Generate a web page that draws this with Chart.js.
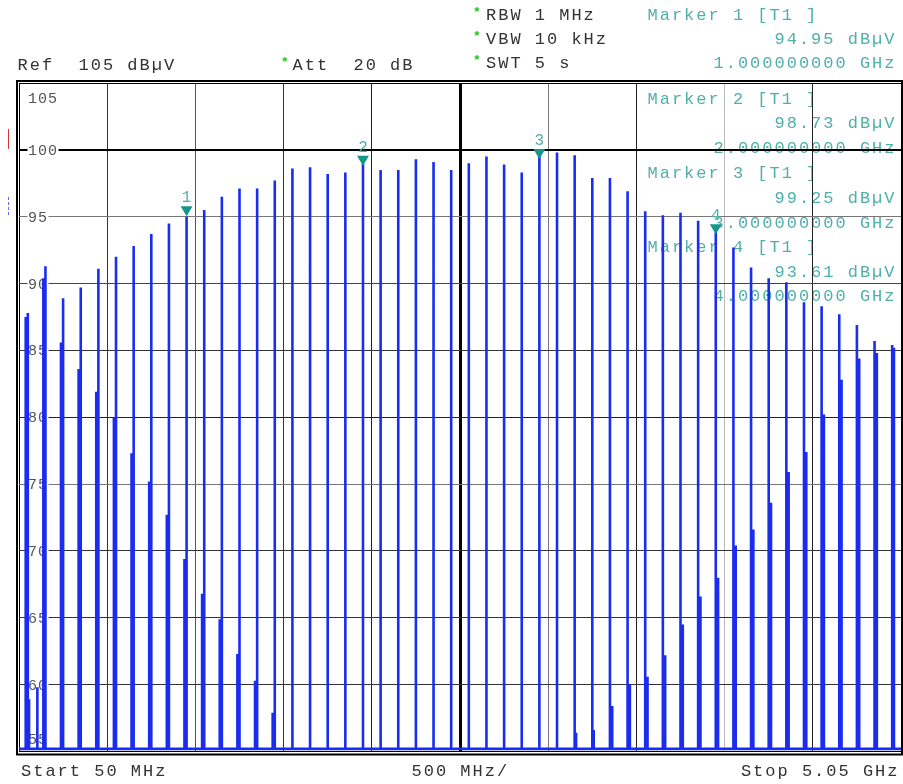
<!DOCTYPE html>
<html>
<head>
<meta charset="utf-8">
<script src="https://cdn.jsdelivr.net/npm/chart.js@4.4.1/dist/chart.umd.min.js"></script>
<style>
html, body { margin: 0; padding: 0; background: #fff; }
#wrap { width: 903px; height: 784px; position: relative; }
</style>
</head>
<body>
<div id="wrap"><canvas id="spectrum"></canvas></div>
<script>
// -----------------------------
// Data (MHz / dBµV)
// -----------------------------
const startMHz = 50;
const stopMHz = 5050;
const floorLevel = 55.2;

const combFreqs = [100, 200, 300, 400, 500, 600, 700, 800, 900, 1000,
    1100, 1200, 1300, 1400, 1500, 1600, 1700, 1800, 1900, 2000,
    2100, 2200, 2300, 2400, 2500, 2600, 2700, 2800, 2900, 3000,
    3100, 3200, 3300, 3400, 3500, 3600, 3700, 3800, 3900, 4000,
    4100, 4200, 4300, 4400, 4500, 4600, 4700, 4800, 4900, 5000];
const combLevels = [87.8, 91.3, 88.9, 89.7, 91.1, 92.0, 92.8, 93.7, 94.5, 95.0,
    95.5, 96.5, 97.1, 97.1, 97.7, 98.6, 98.7, 98.2, 98.3, 99.0,
    98.5, 98.5, 99.3, 99.1, 98.5, 99.0, 99.5, 98.9, 98.3, 99.7,
    99.8, 99.6, 97.9, 97.9, 96.9, 95.4, 95.1, 95.3, 94.7, 94.1,
    92.7, 91.2, 90.4, 90.1, 88.6, 88.3, 87.7, 86.9, 85.7, 85.4];

// side lines next to the comb
const sideFreqs = [88, 107, 154, 188, 288, 388, 488, 588, 688, 788, 888, 988,
    1088, 1188, 1288, 1388, 1488,
    3208, 3308, 3413, 3513, 3613, 3713, 3813, 3913, 4013, 4113, 4213,
    4313, 4413, 4513, 4613, 4713, 4813, 4913, 5010];
const sideLevels = [87.5, 58.9, 59.8, 90.4, 85.6, 83.6, 81.9, 80.0, 77.3, 75.2, 72.7, 69.4,
    66.8, 64.9, 62.3, 60.3, 57.9,
    56.4, 56.6, 58.4, 60.0, 60.6, 62.2, 64.5, 66.6, 68.0, 70.4, 71.6,
    73.6, 75.9, 77.4, 80.2, 82.8, 84.4, 84.8, 85.2];

const markerFreqs = [1000, 2000, 3000, 4000];
const markerLevels = [94.95, 98.73, 99.25, 93.61];

const xGrid = [50, 550, 1050, 1550, 2050, 2550, 3050, 3550, 4050, 4550, 5050];
const yGrid = [55, 60, 65, 70, 75, 80, 85, 90, 95, 100, 105];
const yTickLabels = ['55', '60', '65', '70', '75', '80', '85', '90', '95', '100', '105'];

// -----------------------------
// Styles
// -----------------------------
const FONT = '"Liberation Mono", "DejaVu Sans Mono", monospace';
const TEAL = '#4fb0aa';
const xGridColors = ['#000', '#333', '#555', '#333', '#222', '#000', '#777', '#222', '#bbb', '#222', '#000'];
const yGridColors = ['#000', '#333', '#333', '#333', '#777', '#222', '#333', '#444', '#777', '#000', '#000'];

// trace: floor -> peak -> floor for every line
const lines = combFreqs.map((f, i) => ({ f: f, v: combLevels[i] }))
    .concat(sideFreqs.map((f, i) => ({ f: f, v: sideLevels[i] })))
    .sort((a, b) => a.f - b.f);
const trace = [{ x: startMHz, y: floorLevel }];
lines.forEach(l => {
    trace.push({ x: l.f, y: floorLevel }, { x: l.f, y: l.v }, { x: l.f, y: floorLevel });
});
trace.push({ x: stopMHz, y: floorLevel });

function monoText(ctx, text, x, y, opt) {
    const pitch = opt.pitch || 12.2;
    const left = opt.align === 'right' ? x - text.length * pitch : x;
    ctx.save();
    ctx.font = opt.font || ('17px ' + FONT);
    ctx.fillStyle = opt.color || '#333';
    ctx.textAlign = 'center';
    ctx.textBaseline = 'alphabetic';
    for (let i = 0; i < text.length; i++) {
        ctx.fillText(text[i], left + pitch * i + pitch / 2, y);
    }
    ctx.restore();
}

function star(ctx, x, y) {
    ctx.save();
    ctx.font = 'bold 13px ' + FONT;
    ctx.fillStyle = '#22c422';
    ctx.textAlign = 'center';
    ctx.fillText('*', x, y);
    ctx.restore();
}

function markerRows(i) {
    const f = (markerFreqs[i] / 1000).toFixed(9) + ' GHz';
    const v = markerLevels[i].toFixed(2) + ' dBµV';
    return ['Marker ' + (i + 1) + ' [T1 ]', v, f];
}

// -----------------------------
// Plugins
// -----------------------------
const markerTextPlugin = {
    id: 'markerText',
    beforeDraw(chart) {
        const ctx = chart.ctx;
        const rowTops = [103.5, 178, 251.7];
        for (let i = 1; i < 4; i++) {
            const rows = markerRows(i);
            const b = rowTops[i - 1];
            monoText(ctx, rows[0], 646.5, b, { color: TEAL });
            monoText(ctx, rows[1], 895.5, b + 24.8, { color: TEAL, align: 'right' });
            monoText(ctx, rows[2], 895.5, b + 49.6, { color: TEAL, align: 'right' });
        }
    }
};

const yLabelPlugin = {
    id: 'yLabels',
    beforeDatasetsDraw(chart) {
        const ctx = chart.ctx;
        const y = chart.scales.y;
        yGrid.forEach((v, i) => {
            let base = y.getPixelForValue(v) + 5;
            if (v === 105) base = y.getPixelForValue(v) + 20;
            if (v === 55) base = y.getPixelForValue(v) - 8;
            const txt = yTickLabels[i];
            ctx.fillStyle = '#fff';
            ctx.fillRect(27.5, base - 12, txt.length * 10 + 1, 14);
            monoText(ctx, txt, 27.5, base, { pitch: 10, font: '15px ' + FONT, color: '#555' });
        });
    }
};

const overlayPlugin = {
    id: 'overlay',
    afterDraw(chart) {
        const ctx = chart.ctx;
        const xs = chart.scales.x, ys = chart.scales.y;

        // frame
        ctx.save();
        ctx.strokeStyle = '#000';
        ctx.lineWidth = 2;
        ctx.strokeRect(17, 81, 885, 673.5);
        ctx.restore();

        // small indicators on the left
        ctx.save();
        ctx.strokeStyle = '#d33';
        ctx.lineWidth = 1;
        ctx.beginPath(); ctx.moveTo(8.5, 129); ctx.lineTo(8.5, 149); ctx.stroke();
        ctx.strokeStyle = '#66f';
        ctx.setLineDash([3, 2]);
        ctx.beginPath(); ctx.moveTo(8.5, 197); ctx.lineTo(8.5, 217); ctx.stroke();
        ctx.restore();

        // markers
        markerFreqs.forEach((f, i) => {
            const px = xs.getPixelForValue(f);
            const py = ys.getPixelForValue(markerLevels[i]) - 1;
            ctx.save();
            ctx.fillStyle = '#15968b';
            ctx.beginPath();
            ctx.moveTo(px - 6, py - 10);
            ctx.lineTo(px + 6, py - 10);
            ctx.lineTo(px, py);
            ctx.closePath();
            ctx.fill();
            ctx.font = '16px ' + FONT;
            ctx.fillStyle = TEAL;
            ctx.textAlign = 'center';
            ctx.fillText(String(i + 1), px, py - 14);
            ctx.restore();
        });

        // header
        monoText(ctx, 'Ref  105 dBµV', 16.5, 69.5, {});
        star(ctx, 285, 66);
        monoText(ctx, 'Att  20 dB', 291.5, 69.5, {});
        const hdr = ['RBW 1 MHz', 'VBW 10 kHz', 'SWT 5 s'];
        const m1 = markerRows(0);
        [19.5, 43.5, 67.5].forEach((b, i) => {
            star(ctx, 477, b - 3.5);
            monoText(ctx, hdr[i], 485, b, {});
        });
        monoText(ctx, m1[0], 646.5, 19.5, { color: TEAL });
        monoText(ctx, m1[1], 895.5, 43.5, { color: TEAL, align: 'right' });
        monoText(ctx, m1[2], 895.5, 67.5, { color: TEAL, align: 'right' });

        // footer
        monoText(ctx, 'Start 50 MHz', 20, 776, {});
        monoText(ctx, '500 MHz/', 410.5, 776, {});
        monoText(ctx, 'Stop 5.05 GHz', 898.5, 776, { align: 'right' });
    }
};

// -----------------------------
// Chart
// -----------------------------
const ctx = document.getElementById('spectrum').getContext('2d');
new Chart(ctx, {
    type: 'scatter',
    data: {
        datasets: [{
            data: trace,
            showLine: true,
            borderColor: '#1a2cf0',
            borderWidth: 2.6,
            pointRadius: 0,
            tension: 0,
            borderJoinStyle: 'miter'
        }]
    },
    options: {
        responsive: true,
        maintainAspectRatio: false,
        animation: false,
        layout: { padding: { left: 19, top: 83, right: 2, bottom: 32.5 } },
        plugins: { legend: { display: false }, tooltip: { enabled: false } },
        scales: {
            x: {
                type: 'linear', min: startMHz, max: stopMHz,
                afterBuildTicks: s => { s.ticks = xGrid.map(v => ({ value: v })); },
                ticks: { display: false },
                border: { display: false },
                grid: {
                    drawTicks: false,
                    color: c => xGridColors[c.index] || '#333',
                    lineWidth: c => (c.index === 5 ? 3 : 1)
                }
            },
            y: {
                min: 55, max: 105,
                afterBuildTicks: s => { s.ticks = yGrid.map(v => ({ value: v })); },
                ticks: { display: false },
                border: { display: false },
                grid: {
                    drawTicks: false,
                    color: c => yGridColors[c.index] || '#444',
                    lineWidth: c => (c.index === 9 ? 2 : 1)
                }
            }
        }
    },
    plugins: [markerTextPlugin, yLabelPlugin, overlayPlugin]
});
</script>
</body>
</html>
